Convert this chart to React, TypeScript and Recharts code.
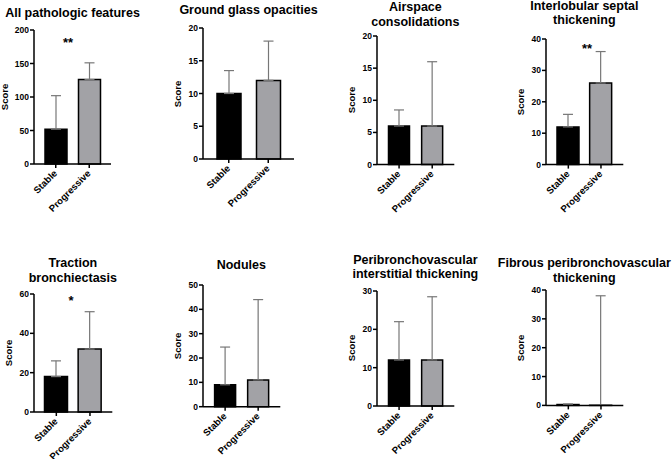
import React from "react"
import { BarChart, Bar, XAxis, YAxis, ErrorBar, Cell } from "recharts"

const groups = ["Stable", "Progressive"]
const titles = [
  ["All pathologic features"],
  ["Ground glass opacities"],
  ["Airspace", "consolidations"],
  ["Interlobular septal", "thickening"],
  ["Traction", "bronchiectasis"],
  ["Nodules"],
  ["Peribronchovascular", "interstitial thickening"],
  ["Fibrous peribronchovascular", "thickening"],
]
const stableMean = [52, 10, 6, 12, 18, 9, 12, 0.3]
const stableUpper = [102, 13.5, 8.5, 16, 26, 24.5, 22, 0.5]
const progressiveMean = [126, 12, 6, 26, 32, 11, 12, 0.05]
const progressiveUpper = [151, 18, 16, 36, 51, 44, 28.5, 38]
const yMax = [200, 20, 20, 40, 60, 50, 30, 40]
const yStep = [50, 5, 5, 10, 20, 10, 10, 10]
const marks = ["**", "", "", "**", "*", "", "", ""]

// plot-area placement of each panel (pixels)
const panels = [
  { ax: 34, top: 30.3, bottom: 164.3, right: 111, barSize: 22, pad: 5, titleY: 13, scoreDx: 29, markX: 68, markY: 40 },
  { ax: 203, top: 28, bottom: 159, right: 294, barSize: 24, pad: 6, titleY: 10, scoreDx: 25 },
  { ax: 376.7, top: 35.7, bottom: 164.3, right: 454, barSize: 21, pad: 5.5, titleY: 7.5, scoreDx: 25 },
  { ax: 545.7, top: 38.7, bottom: 164.3, right: 623, barSize: 22, pad: 6, titleY: 6, scoreDx: 25, markX: 587, markY: 46 },
  { ax: 33.7, top: 293.7, bottom: 411.7, right: 112, barSize: 23, pad: 5.5, titleY: 263.3, scoreDx: 25, markX: 71, markY: 298 },
  { ax: 202.7, top: 285, bottom: 406.7, right: 280, barSize: 21, pad: 5.6, titleY: 265.7, scoreDx: 25 },
  { ax: 376.7, top: 290.7, bottom: 405.7, right: 454, barSize: 21, pad: 5.5, titleY: 260, scoreDx: 25 },
  { ax: 545.7, top: 290.3, bottom: 405.7, right: 623, barSize: 22, pad: 6, titleY: 263.3, scoreDx: 25 },
]

const FONT = "'Liberation Sans', Arial, Helvetica, sans-serif"
const barColors = ["#000000", "#a2a2a6"]
const YW = 30
const MT = 6
const MR = 4
const XH = 60

const XTick = ({ x, y, payload }: any) => (
  <g transform={`translate(${x + 2},${y + 4})`}>
    <text textAnchor="end" transform="rotate(-45)" fontSize={9.5} fontWeight="bold" fontFamily={FONT} fill="#000">
      {payload.value}
    </text>
  </g>
)

const Panel = ({ i }: { i: number }) => {
  const p = panels[i]
  const data = groups.map((name, k) => {
    const mean = k === 0 ? stableMean[i] : progressiveMean[i]
    const upper = k === 0 ? stableUpper[i] : progressiveUpper[i]
    return { name, mean, err: [0, upper - mean] }
  })
  const ticks: number[] = []
  for (let v = 0; v <= yMax[i]; v += yStep[i]) ticks.push(v)

  const plotW = p.right - p.ax
  const plotH = p.bottom - p.top
  const w = YW + plotW + MR
  const h = MT + plotH + XH

  return (
    <>
      <div style={{ position: "absolute", left: p.ax - YW, top: p.top - MT }}>
        <BarChart width={w} height={h} data={data} margin={{ top: MT, right: MR, left: 0, bottom: 0 }}>
          <XAxis
            dataKey="name"
            height={XH}
            interval={0}
            padding={{ left: p.pad, right: p.pad }}
            tick={<XTick />}
            tickSize={4}
            tickMargin={2}
            axisLine={{ stroke: "#000", strokeWidth: 1.5 }}
            tickLine={{ stroke: "#000", strokeWidth: 1.5 }}
          />
          <YAxis
            width={YW}
            domain={[0, yMax[i]]}
            ticks={ticks}
            interval={0}
            tickSize={4}
            tickMargin={1}
            tick={{ fontSize: 8.5, fontWeight: "bold", fill: "#000", fontFamily: FONT }}
            axisLine={{ stroke: "#000", strokeWidth: 1.5 }}
            tickLine={{ stroke: "#000", strokeWidth: 1.5 }}
          />
          <Bar dataKey="mean" barSize={p.barSize} stroke="#000" strokeWidth={1.5} isAnimationActive={false}>
            {data.map((d, k) => (
              <Cell key={d.name} fill={barColors[k]} />
            ))}
            <ErrorBar dataKey="err" direction="y" width={5} stroke="#777" strokeWidth={1.2} />
          </Bar>
        </BarChart>
      </div>

      <div
        style={{
          position: "absolute",
          left: (p.ax + p.right) / 2 - 100,
          width: 200,
          top: p.titleY - 7.25,
          textAlign: "center",
          fontFamily: FONT,
          fontWeight: "bold",
          fontSize: 12.5,
          lineHeight: "14.5px",
          color: "#000",
        }}
      >
        {titles[i].map((t) => (
          <div key={t}>{t}</div>
        ))}
      </div>

      <div
        style={{
          position: "absolute",
          left: p.ax - p.scoreDx - 30,
          width: 60,
          top: (p.top + p.bottom) / 2 - 6,
          height: 12,
          lineHeight: "12px",
          textAlign: "center",
          transform: "rotate(-90deg)",
          fontFamily: FONT,
          fontWeight: "bold",
          fontSize: 9.5,
        }}
      >
        Score
      </div>

      {marks[i] && (
        <div
          style={{
            position: "absolute",
            left: (p.markX ?? 0) - 20,
            width: 40,
            top: (p.markY ?? 0) - 4,
            textAlign: "center",
            fontFamily: FONT,
            fontWeight: "bold",
            fontSize: 13,
            lineHeight: "13px",
          }}
        >
          {marks[i]}
        </div>
      )}
    </>
  )
}

export default function App() {
  return (
    <div style={{ position: "relative", width: 672, height: 459, background: "#fff", overflow: "hidden" }}>
      <style>{"body{margin:0}"}</style>
      {panels.map((_, i) => (
        <Panel key={i} i={i} />
      ))}
    </div>
  )
}
